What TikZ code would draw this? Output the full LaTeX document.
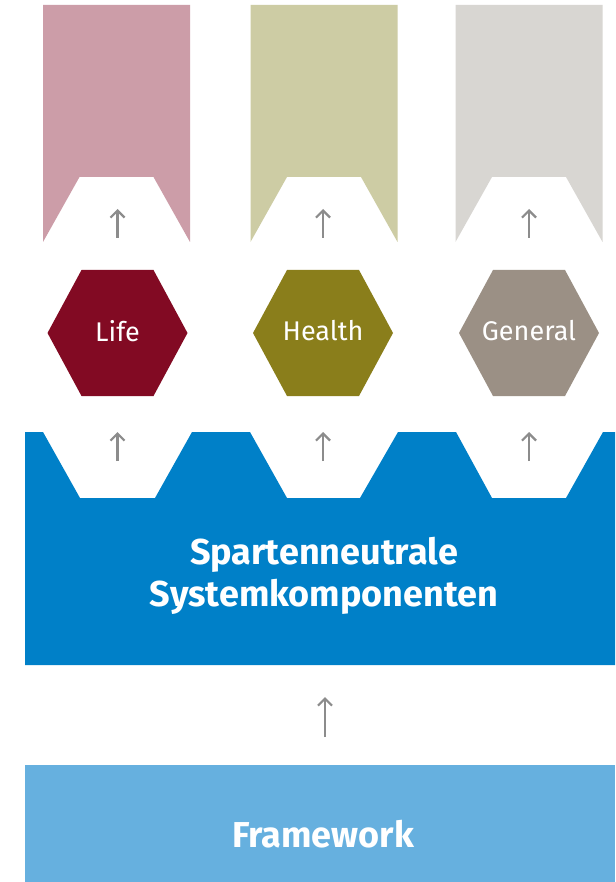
\documentclass[tikz,border=0pt]{standalone}
\usepackage{fontspec}
\setmainfont{Fira Sans}
\usetikzlibrary{arrows.meta}
\definecolor{pinkc}{HTML}{CC9DA8}
\definecolor{olivec}{HTML}{CDCCA4}
\definecolor{greyc}{HTML}{D8D6D2}
\definecolor{lifec}{HTML}{820A23}
\definecolor{healthc}{HTML}{8A7E1B}
\definecolor{generalc}{HTML}{9B9085}
\definecolor{bluec}{HTML}{0080C8}
\definecolor{lightbluec}{HTML}{66B0DF}
\definecolor{arrowc}{HTML}{8C8C8C}
\tikzset{
  arr/.style={draw=arrowc, line width=2.2pt, -{Straight Barb[length=7pt,width=14pt,line width=2.2pt]}},
  hexlabel/.style={text=white, font=\fontsize{27}{30}\selectfont},
  bandlabel/.style={text=white, font=\bfseries\fontsize{36}{42}\selectfont, align=center},
}
\begin{document}
\begin{tikzpicture}[x=1pt,y=-1pt]
\useasboundingbox (0,0) rectangle (615,882);
\fill[white] (0,0) rectangle (615,882);
% columns
\foreach \cx/\col in {116.5/pinkc, 324/olivec, 529/greyc}{
  \fill[\col] (\cx-73.5,5) -- (\cx+73.5,5) -- (\cx+73.5,242) -- (\cx+37,177) -- (\cx-37,177) -- (\cx-73.5,242) -- cycle;
}
% hexagons
\foreach \cx/\col in {117.5/lifec, 323/healthc, 529/generalc}{
  \fill[\col] (\cx-70,333) -- (\cx-36,270) -- (\cx+36,270) -- (\cx+70,333) -- (\cx+36,396) -- (\cx-36,396) -- cycle;
}
\node[hexlabel] (life) at (117.5,331) {Life};
\node[hexlabel] (health) at (323,331) {Health};
\node[hexlabel] (general) at (529,331) {General};
% blue band
\fill[bluec] (25,432) -- (43,432) -- (80,498) -- (155,498) -- (192,432)
  -- (250,432) -- (287,498) -- (360,498) -- (398,432)
  -- (456,432) -- (492,498) -- (566,498) -- (603,432)
  -- (615,432) -- (615,665) -- (25,665) -- cycle;
\node[bandlabel] (spart) at (324,576) {Spartenneutrale\\Systemkomponenten};
% framework
\fill[lightbluec] (25,765) rectangle (615,882);
\node[bandlabel] (fw) at (323,834) {Framework};
% arrows
\foreach \n/\cx in {a/117.5, b/323, c/529}{
  \coordinate (\n1) at (\cx,238);
  \coordinate (\n2) at (\cx,209);
  \coordinate (\n3) at (\cx,461);
  \coordinate (\n4) at (\cx,432);
  \draw[arr] (\n1) -- (\n2);
  \draw[arr] (\n3) -- (\n4);
}
\coordinate (f1) at (325,737);
\coordinate (f2) at (325,697);
\draw[arr] (f1) -- (f2);
\end{tikzpicture}
\end{document}
